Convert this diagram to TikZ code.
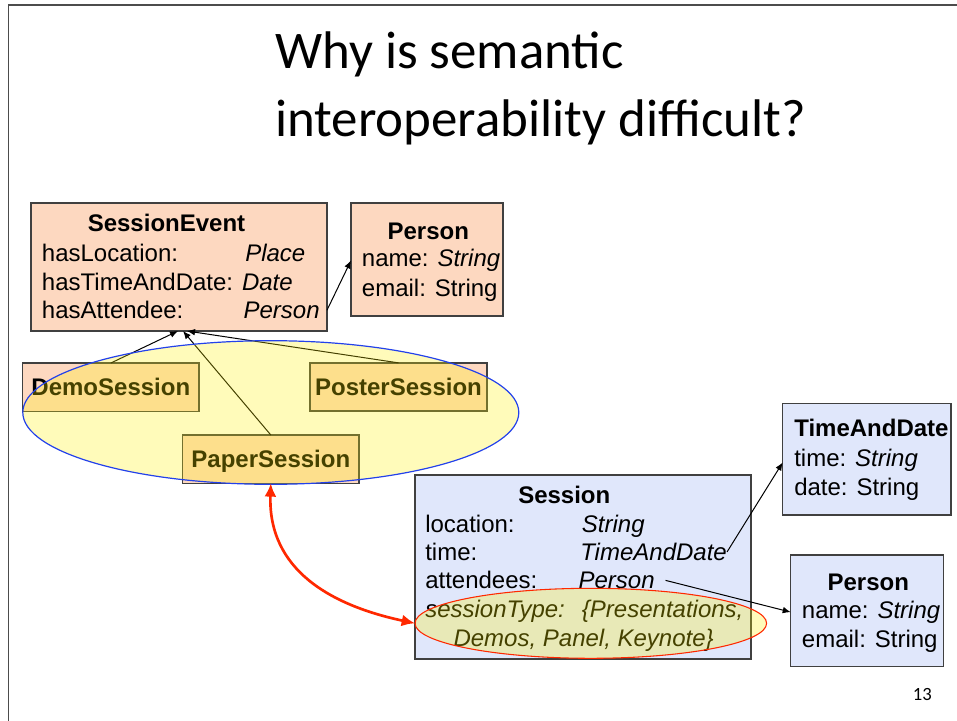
\documentclass[tikz,border=0pt]{standalone}
\usepackage{fontspec}
\setmainfont{Liberation Sans}
\newfontfamily\gillfont{Carlito}
\usepackage{tikz}
\usetikzlibrary{arrows.meta,shapes.geometric,positioning}
\definecolor{peach}{RGB}{253,216,192}
\definecolor{paleblue}{RGB}{224,231,251}
\definecolor{boxline}{RGB}{64,64,64}
\definecolor{grpblue}{RGB}{35,65,235}
\definecolor{hotred}{RGB}{255,40,0}

\begin{document}
\begin{tikzpicture}[x=0.75pt, y=-0.75pt,
    umlbox/.style={draw=boxline, line width=1.1pt, anchor=north west, inner sep=0pt, outer sep=0pt},
    attr/.style={inner sep=0pt, anchor=base west, font=\fontsize{18}{21}\selectfont},
    cls/.style={attr, anchor=base, font=\fontsize{18}{21}\selectfont\bfseries},
    subbox/.style={draw=boxline, line width=1.1pt, fill=peach, inner sep=0pt, outer sep=0pt,
        minimum width=132.5pt, minimum height=36.2pt, text height=13pt, text depth=0pt,
        font=\fontsize{18}{21}\selectfont\bfseries},
    tintell/.style={ellipse, fill=yellow, fill opacity=0.27, inner sep=0pt, outer sep=0pt},
    arr/.style={-{Latex[length=6pt,width=5pt]}, line width=0.75pt},
    redarr/.style={{Latex[length=10pt,width=9pt]}-{Latex[length=10pt,width=9pt]}, hotred, line width=2pt}]
    \useasboundingbox (0,0) rectangle (957,721);
    \draw[line width=1.2pt, black!70] (8.5,721) -- (8.5,5) -- (957,5);

    \node[anchor=base west, inner sep=0pt, font=\gillfont\fontsize{39.7}{46}\selectfont] (ttlA) at (275,68) {Why is semantic};
    \node[anchor=base west, inner sep=0pt, font=\gillfont\fontsize{39.7}{46}\selectfont] (ttlB) at (275,136) {interoperability difficult?};

    \node[umlbox, fill=peach, minimum width=222pt, minimum height=96pt] (se) at (31,203) {};
    \node[cls] (seName) at (166.5,231.7) {SessionEvent};
    \node[attr] (seLoc) at (41.7,261) {hasLocation:};
    \node[attr] (seLocT) at (245,261) {\textit{Place}};
    \node[attr] (seTime) at (41.7,290) {hasTimeAndDate: \textit{Date}};
    \node[attr] (seAtt) at (41.7,318.3) {hasAttendee:};
    \node[attr] (seAttT) at (243.3,318.3) {\textit{Person}};

    \node[umlbox, fill=peach, minimum width=114pt, minimum height=84.75pt] (persA) at (351,203) {};
    \node[cls] (persAName) at (428.3,239.3) {Person};
    \node[attr] (persANm) at (361.7,266.7) {name: \textit{String}};
    \node[attr] (persAEm) at (361.7,296) {email: String};

    \node[subbox] (demo) at (110.85,387.15) {DemoSession};
    \node[subbox] (poster) at (398.5,387) {PosterSession};
    \node[subbox] (paper) at (270.85,459.15) {PaperSession};

    \draw[arr] (se.east |- seAttT) -- (persA.west |- persANm);
    \draw[arr] (demo.north) -- ([xshift=-0.75pt]se.south);
    \draw[arr] (paper.north) -- ([xshift=3pt]se.south);
    \draw[arr] (poster.north) -- ([xshift=6pt]se.south);

    \node[tintell, draw=grpblue, line width=0.9pt, minimum width=372pt, minimum height=107.7pt] (grpEll) at (270.8,412.5) {};

    \node[umlbox, fill=paleblue, minimum width=252pt, minimum height=138pt] (sess) at (415,475) {};
    \node[cls] (sessName) at (564.3,503.3) {Session};
    \node[attr] (sLoc) at (425,532.3) {location:};
    \node[attr] (sLocT) at (581.7,532.3) {\textit{String}};
    \node[attr] (sTime) at (425,560.5) {time:};
    \node[attr] (sTimeT) at (580,560.5) {\textit{TimeAndDate}};
    \node[attr] (sAtt) at (425,588.5) {attendees:};
    \node[attr] (sAttT) at (578.3,588.5) {\textit{Person}};
    \node[attr] (sType) at (425,617.5) {\textit{sessionType:}};
    \node[attr] (sTypeT) at (581.7,617.5) {\textit{\{Presentations,}};
    \node[attr] (sTypeU) at (453.3,646) {\textit{Demos, Panel, Keynote\}}};

    \node[tintell, draw=hotred, line width=0.8pt, minimum width=263.7pt, minimum height=52.5pt] (stEll) at (590.8,623.3) {};

    \node[umlbox, fill=paleblue, minimum width=126.2pt, minimum height=83.8pt] (tad) at (782.7,403.3) {};
    \node[attr, font=\fontsize{18}{21}\selectfont\bfseries] (tadName) at (794,436.7) {TimeAndDate};
    \node[attr] (tadTime) at (794,466) {time: \textit{String}};
    \node[attr] (tadDate) at (794,495) {date: String};

    \node[umlbox, fill=paleblue, minimum width=114.5pt, minimum height=83.8pt] (persB) at (790.7,555) {};
    \node[cls] (persBName) at (868.3,590) {Person};
    \node[attr] (persBNm) at (801.7,618.3) {name: \textit{String}};
    \node[attr] (persBEm) at (801.7,647) {email: String};

    \draw[arr] (sTimeT.east) -- ([yshift=-2pt]tad.west |- tadTime);
    \draw[arr] ([xshift=8pt]sAttT.east) -- (persB.west |- persBNm);
    \draw[redarr] (paper.south) to[out=-92, in=168, looseness=1.1] (stEll.west);

    \node[anchor=base east, inner sep=0pt, font=\gillfont\fontsize{14}{16}\selectfont] (pgNum) at (932,700) {13};
\end{tikzpicture}
\end{document}
